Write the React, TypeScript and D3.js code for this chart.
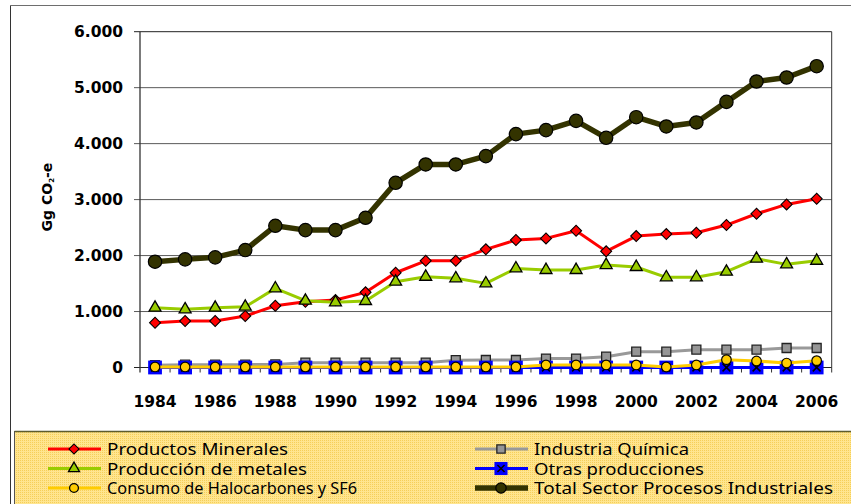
import React from "react";
import * as d3 from "d3";

const years = [1984, 1985, 1986, 1987, 1988, 1989, 1990, 1991, 1992, 1993, 1994, 1995, 1996, 1997, 1998, 1999, 2000, 2001, 2002, 2003, 2004, 2005, 2006];
const minerales = [800, 830, 830, 920, 1104, 1175, 1205, 1343, 1693, 1907, 1907, 2111, 2277, 2307, 2443, 2075, 2348, 2384, 2407, 2545, 2747, 2914, 3014];
const quimica = [40, 50, 50, 50, 55, 86, 86, 86, 86, 86, 130, 134, 134, 160, 160, 193, 282, 282, 318, 318, 318, 348, 348];
const metales = [1068, 1039, 1068, 1086, 1414, 1193, 1164, 1187, 1532, 1621, 1593, 1503, 1771, 1741, 1741, 1830, 1795, 1611, 1611, 1711, 1943, 1843, 1907];
const otras = [0, 0, 0, 0, 0, 0, 0, 0, 0, 0, 0, 0, 0, 0, 0, 0, 0, 0, 0, 0, 0, 0, 0];
const halocarbones = [10, 10, 10, 10, 10, 10, 10, 10, 10, 10, 10, 10, 10, 45, 45, 45, 45, 9, 45, 140, 116, 80, 122];
const total = [1890, 1932, 1968, 2098, 2532, 2455, 2455, 2675, 3300, 3628, 3628, 3777, 4170, 4241, 4407, 4104, 4473, 4307, 4378, 4746, 5110, 5182, 5384];
const yTicks = [0, 1000, 2000, 3000, 4000, 5000, 6000];
const xLabels = [1984, 1986, 1988, 1990, 1992, 1994, 1996, 1998, 2000, 2002, 2004, 2006];

type Series = { name: string; values: number[]; color: string; width: number; marker: string; mfill: string; msize: number };

const series: Series[] = [
  { name: "Productos Minerales", values: minerales, color: "#FF0000", width: 3, marker: "diamond", mfill: "#FF0000", msize: 60 },
  { name: "Industria Química", values: quimica, color: "#999999", width: 3, marker: "square", mfill: "#969696", msize: 81 },
  { name: "Producción de metales", values: metales, color: "#99CC00", width: 3, marker: "triangle", mfill: "#99CC00", msize: 62 },
  { name: "Otras producciones", values: otras, color: "#0000FF", width: 3, marker: "bigsquare", mfill: "#0000FF", msize: 190 },
  { name: "Consumo de Halocarbones y SF6", values: halocarbones, color: "#FFCC00", width: 3, marker: "circle", mfill: "#FFCC00", msize: 72 },
  { name: "Total Sector Procesos Industriales", values: total, color: "#333300", width: 5.5, marker: "circle", mfill: "#333300", msize: 140 },
];

// legend text widths (layout), same order as series
const legendTextWidths = [181, 155, 200, 170, 250, 299];

function Marker({ s, x, y, scale = 1 }: { s: Series; x: number; y: number; scale?: number }) {
  const size = s.msize * scale;
  if (s.marker === "diamond") {
    const p = d3.symbol().type(d3.symbolSquare).size(size)()!;
    return <path d={p} transform={`translate(${x},${y}) rotate(45)`} fill={s.mfill} stroke="#000" strokeWidth={1.1} />;
  }
  if (s.marker === "triangle") {
    const p = d3.symbol().type(d3.symbolTriangle).size(size)()!;
    return <path d={p} transform={`translate(${x},${y})`} fill={s.mfill} stroke="#000" strokeWidth={1.3} />;
  }
  if (s.marker === "square") {
    const p = d3.symbol().type(d3.symbolSquare).size(size)()!;
    return <path d={p} transform={`translate(${x},${y})`} fill={s.mfill} stroke="#222" strokeWidth={1.3} />;
  }
  if (s.marker === "bigsquare") {
    const p = d3.symbol().type(d3.symbolSquare).size(size)()!;
    const h = Math.sqrt(size) / 2 - 3;
    return (
      <g transform={`translate(${x},${y})`}>
        <path d={p} fill={s.mfill} />
        <path d={`M${-h},${-h}L${h},${h}M${-h},${h}L${h},${-h}`} stroke="#000" strokeWidth={1.5} />
      </g>
    );
  }
  const p = d3.symbol().type(d3.symbolCircle).size(size)()!;
  return <path d={p} transform={`translate(${x},${y})`} fill={s.mfill} stroke="#000" strokeWidth={1.2} />;
}

export default function App() {
  const W = 851, H = 504;
  const left = 140, right = 831.7, top = 31.7, bottom = 367.5;
  const x = d3.scaleBand<number>().domain(years).range([left, right]).paddingInner(0).paddingOuter(0);
  const bw = x.bandwidth();
  const cx = (yr: number) => (x(yr) as number) + bw / 2;
  const y = d3.scaleLinear().domain([0, 6000]).range([bottom, top]);
  const line = d3.line<number>().x((_, i) => cx(years[i])).y((v) => y(v));
  const fmt = (v: number) => d3.format(",")(v).replace(/,/g, ".");

  const legX = [48, 475];
  const legY = [449, 468.5, 488];

  return (
    <svg width={W} height={H} style={{ position: "absolute", left: 0, top: 0 }}>
      <defs>
        <pattern id="dots" width="2" height="2" patternUnits="userSpaceOnUse">
          <rect width="2" height="2" fill="#FFE58F" />
          <rect width="1" height="1" fill="#F5CF5A" />
        </pattern>
      </defs>
      <rect x={0} y={0} width={W} height={H} fill="#fff" />
      {/* outer frame */}
      <line x1={10.5} y1={5.5} x2={W} y2={5.5} stroke="#6e6e6e" strokeWidth={1} />
      <line x1={10.5} y1={5.5} x2={10.5} y2={H} stroke="#333" strokeWidth={1} />

      {/* gridlines */}
      {yTicks.map((t) => (
        <line key={t} x1={left - 6} x2={right} y1={y(t)} y2={y(t)} stroke={t === 0 || t === 6000 ? "#222" : "#5a5a5a"} strokeWidth={1} />
      ))}
      {/* axes */}
      <line x1={left} x2={left} y1={top} y2={bottom + 5} stroke="#333" strokeWidth={1.3} />
      <line x1={right} x2={right} y1={top} y2={bottom + 5} stroke="#333" strokeWidth={1} />
      {years.map((yr, i) => (i > 0 ? (
        <line key={yr} x1={x(yr)} x2={x(yr)} y1={bottom} y2={bottom + 5} stroke="#333" strokeWidth={1} />
      ) : null))}

      {/* y tick labels */}
      {yTicks.map((t) => (
        <text key={t} x={123} y={y(t)} dy="0.36em" textAnchor="end" fontFamily="DejaVu Sans" fontWeight="bold" fontSize={15.5} fill="#000">
          {fmt(t)}
        </text>
      ))}
      {/* x labels */}
      {xLabels.map((yr) => (
        <text key={yr} x={cx(yr)} y={407} textAnchor="middle" fontFamily="DejaVu Sans" fontWeight="bold" fontSize={15.5} fill="#000">
          {yr}
        </text>
      ))}
      {/* y title */}
      <text transform="translate(52,197) rotate(-90)" textAnchor="middle" fontFamily="DejaVu Sans" fontWeight="bold" fontSize={14} fill="#000">
        Gg CO<tspan fontSize={7} dy={2}>2</tspan><tspan dy={-2}>-e</tspan>
      </text>

      {/* series */}
      {series.map((s) => (
        <g key={s.name}>
          <path d={line(s.values)!} fill="none" stroke={s.color} strokeWidth={s.width} strokeLinejoin="round" />
          {s.values.map((v, i) => (
            <Marker key={i} s={s} x={cx(years[i])} y={y(v)} />
          ))}
        </g>
      ))}

      {/* legend */}
      <rect x={14.5} y={431.5} width={W} height={H} fill="url(#dots)" stroke="#555" strokeWidth={1} />
      <line x1={14.5} x2={W} y1={431.5} y2={431.5} stroke="#5c5c2e" strokeWidth={1.5} />
      {series.map((s, k) => {
        const col = k % 2;
        const row = Math.floor(k / 2);
        const lx = legX[col];
        const ly = legY[row];
        return (
          <g key={s.name}>
            <line x1={lx} x2={lx + 53} y1={ly} y2={ly} stroke={s.color} strokeWidth={s.width} />
            <Marker s={s} x={lx + 26} y={ly} scale={s.marker === "bigsquare" ? 0.9 : s.marker === "circle" && k === 5 ? 0.6 : 0.85} />
            <text x={lx + 59} y={ly} dy="0.36em" fontFamily="Noto Sans" fontSize={17} fill="#000"
              textLength={legendTextWidths[k]} lengthAdjust="spacingAndGlyphs">
              {s.name}
            </text>
          </g>
        );
      })}
    </svg>
  );
}
